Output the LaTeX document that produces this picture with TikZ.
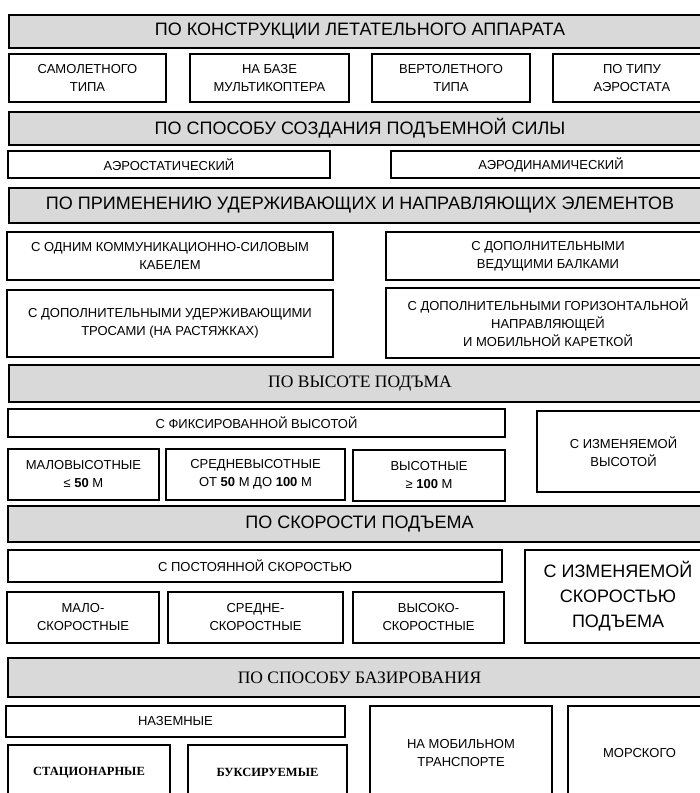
\documentclass[tikz,border=0pt]{standalone}
\usepackage{fontspec}
\setmainfont{Liberation Sans}
\newfontfamily\serifru{Liberation Serif}
\usepackage{tikz}

\begin{document}
\begin{tikzpicture}[x=1pt, y=-1pt]
    \tikzstyle{head} = [rectangle, draw, line width=2.8pt, fill=black!15, inner sep=0pt,
                                      text centered, font=\fontsize{18}{22}\selectfont]
    \tikzstyle{headser} = [head, font=\serifru\fontsize{17.5}{21}\selectfont]
    \tikzstyle{item} = [rectangle, draw, line width=2.8pt, fill=white, inner sep=0pt, align=center,
                                      font=\fontsize{13}{18}\selectfont]
    \tikzstyle{itemser} = [item, font=\serifru\bfseries\fontsize{12.5}{16}\selectfont]
  \useasboundingbox (0,0) rectangle (700,793);
  \fill[white] (0,0) rectangle (700,793);
  \clip (0,0) rectangle (700,793);
  % construction
  \node[head, minimum width=702, minimum height=33] (constr) at (360,31.5) {ПО КОНСТРУКЦИИ ЛЕТАТЕЛЬНОГО АППАРАТА};
  \node[item, minimum width=157, minimum height=48] (plane) at (87.5,78) {САМОЛЕТНОГО\\ТИПА};
  \node[item, minimum width=159, minimum height=48] (multi) at (269.5,78) {НА БАЗЕ\\МУЛЬТИКОПТЕРА};
  \node[item, minimum width=158, minimum height=48] (heli) at (451,78) {ВЕРТОЛЕТНОГО\\ТИПА};
  \node[item, minimum width=158, minimum height=48] (balloon) at (632,78) {ПО ТИПУ\\АЭРОСТАТА};
  % lift
  \node[head, minimum width=702, minimum height=33] (lift) at (360,128.5) {ПО СПОСОБУ СОЗДАНИЯ ПОДЪЕМНОЙ СИЛЫ};
  \node[item, minimum width=322, minimum height=27] (aerostat) at (169,164.5) {АЭРОСТАТИЧЕСКИЙ};
  \node[item, minimum width=320, minimum height=27] (aerodyn) at (551,164.5) {АЭРОДИНАМИЧЕСКИЙ};
  % tethers
  \node[head, minimum width=702, minimum height=35] (tether) at (360,205.5) {ПО ПРИМЕНЕНИЮ УДЕРЖИВАЮЩИХ И НАПРАВЛЯЮЩИХ ЭЛЕМЕНТОВ};
  \node[item, minimum width=326, minimum height=48] (cable) at (170,256) {С ОДНИМ КОММУНИКАЦИОННО-СИЛОВЫМ\\КАБЕЛЕМ};
  \node[item, minimum width=324, minimum height=48] (beams) at (548,256) {С ДОПОЛНИТЕЛЬНЫМИ\\ВЕДУЩИМИ БАЛКАМИ};
  \node[item, minimum width=326, minimum height=67] (ropes) at (170,323.5) {С ДОПОЛНИТЕЛЬНЫМИ УДЕРЖИВАЮЩИМИ\\ТРОСАМИ (НА РАСТЯЖКАХ)};
  \node[item, minimum width=324, minimum height=70] (carriage) at (548,323) {С ДОПОЛНИТЕЛЬНЫМИ ГОРИЗОНТАЛЬНОЙ\\НАПРАВЛЯЮЩЕЙ\\И МОБИЛЬНОЙ КАРЕТКОЙ};
  % height
  \node[headser, minimum width=702, minimum height=37] (height) at (360,383.5) {ПО ВЫСОТЕ ПОДЪМА};
  \node[item, minimum width=497, minimum height=28] (fixh) at (256.5,423) {С ФИКСИРОВАННОЙ ВЫСОТОЙ};
  \node[item, minimum width=151, minimum height=51] (lowh) at (83.5,474.5) {МАЛОВЫСОТНЫЕ\\≤ \textbf{50} М};
  \node[item, minimum width=179, minimum height=51] (midh) at (255.5,474.5) {СРЕДНЕВЫСОТНЫЕ\\ОТ \textbf{50} М ДО \textbf{100} М};
  \node[item, minimum width=152, minimum height=51] (highh) at (429,475.5) {ВЫСОТНЫЕ\\≥ \textbf{100} М};
  \node[item, minimum width=173, minimum height=81] (varh) at (623.5,451.5) {С ИЗМЕНЯЕМОЙ\\ВЫСОТОЙ};
  % speed
  \node[head, minimum width=703, minimum height=36] (speed) at (359.5,524) {ПО СКОРОСТИ ПОДЪЕМА};
  \node[item, minimum width=494, minimum height=32] (consts) at (255,566) {С ПОСТОЯННОЙ СКОРОСТЬЮ};
  \node[item, minimum width=186, minimum height=93, font=\fontsize{18}{25}\selectfont] (vars) at (618,596.5) {С ИЗМЕНЯЕМОЙ\\СКОРОСТЬЮ\\ПОДЪЕМА};
  \node[item, minimum width=152, minimum height=51] (lows) at (83,617.5) {МАЛО-\\СКОРОСТНЫЕ};
  \node[item, minimum width=175, minimum height=51] (mids) at (255.5,617.5) {СРЕДНЕ-\\СКОРОСТНЫЕ};
  \node[item, minimum width=151, minimum height=51] (highs) at (428.5,617.5) {ВЫСОКО-\\СКОРОСТНЫЕ};
  % basing
  \node[headser, minimum width=703, minimum height=39] (base) at (359.5,677.5) {ПО СПОСОБУ БАЗИРОВАНИЯ};
  \node[item, minimum width=339, minimum height=31] (ground) at (175.5,721.5) {НАЗЕМНЫЕ};
  \node[itemser, minimum width=162, minimum height=55] (fixed) at (89,772.5) {СТАЦИОНАРНЫЕ};
  \node[itemser, minimum width=159, minimum height=55] (towed) at (267.5,772.5) {БУКСИРУЕМЫЕ};
  \node[item, minimum width=182, minimum height=94] (mobile) at (461,753) {НА МОБИЛЬНОМ\\ТРАНСПОРТЕ};
  \node[item, minimum width=143, minimum height=94] (sea) at (639.5,753) {МОРСКОГО};
\end{tikzpicture}
\end{document}
